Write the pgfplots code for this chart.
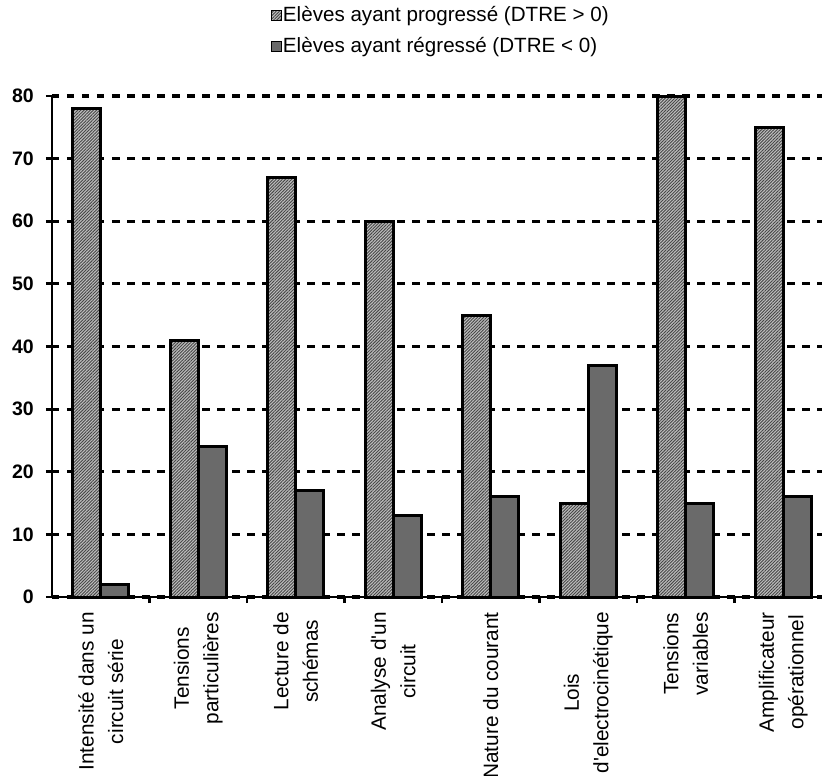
\documentclass[border=0pt]{standalone}
\usepackage{pgfplots}
\pgfplotsset{compat=1.18}
\usetikzlibrary{patterns.meta}
\usepackage{fontspec}
\setmainfont{Liberation Sans}

\definecolor{hatchbase}{RGB}{190,190,190}
\definecolor{hatchline}{RGB}{70,70,70}
\definecolor{darkbar}{RGB}{106,106,106}

\begin{document}
\begin{tikzpicture}
\begin{axis}[
  name=ax,
  scale only axis, width=770pt, height=501pt,
  xmin=-0.5, xmax=7.397, ymin=0, ymax=80,
  clip=false,
  axis lines=left,
  axis line style={-, line width=2.8pt, black},
  tick align=outside,
  major tick length=6pt,
  tick style={line width=2.8pt, black},
  ytick={0,10,...,80},
  xtick={0.5,1.5,...,6.5},
  xticklabels={},
  extra x ticks={0,...,7},
  extra x tick labels={
    {Intensité dans un\\circuit série},
    {Tensions\\particulières},
    {Lecture de\\schémas},
    {Analyse d\textquotesingle un\\circuit},
    {Nature du courant},
    {Lois\\d\textquotesingle electrocinétique},
    {Tensions\\variables},
    {Amplificateur\\opérationnel}},
  extra x tick style={major tick length=0pt},
  xticklabel style={rotate=90, anchor=east, align=center, inner sep=0pt,
    font=\fontsize{20.8}{29.5}\selectfont},
  xticklabel shift=15pt,
  /pgf/number format/assume math mode=true,
  yticklabel style={inner sep=0pt, font=\fontsize{19.5}{20}\selectfont\bfseries},
  yticklabel shift=12pt,
  ymajorgrids,
  major grid style={black, line width=3.2pt, dash pattern=on 7.5pt off 7.5pt},
  legend style={at={(0.2844,1.182)}, anchor=north west, draw=none, fill=none,
    inner sep=0pt, row sep=9.5pt, font=\fontsize{20.6}{24}\selectfont,
    cells={anchor=west},
    nodes={inner sep=1pt, text height=15pt, text depth=4.5pt}},
  legend image code/.code={\draw[#1, draw=black, line width=0.8pt] (0pt,-5pt) rectangle (10pt,5pt);},
]
\addplot[ybar, bar width=0.287, bar shift=-0.1435, draw=black, line width=3pt,
  fill=hatchbase,
  postaction={pattern={Lines[angle=45,distance=2.2pt,line width=0.9pt]}, pattern color=hatchline}]
  coordinates {(0,78) (1,41) (2,67) (3,60) (4,45) (5,15) (6,80) (7,75)};
\addlegendentry{Elèves ayant progressé (DTRE > 0)}
\addplot[ybar, bar width=0.287, bar shift=0.1435, draw=black, line width=3pt,
  fill=darkbar]
  coordinates {(0,2) (1,24) (2,17) (3,13) (4,16) (5,37) (6,15) (7,16)};
\addlegendentry{Elèves ayant régressé (DTRE < 0)}
\end{axis}
\pgfresetboundingbox
\path[use as bounding box] ([shift={(-52pt,-179pt)}]ax.south west) rectangle ([shift={(770pt,597pt)}]ax.south west);
\end{tikzpicture}
\end{document}
